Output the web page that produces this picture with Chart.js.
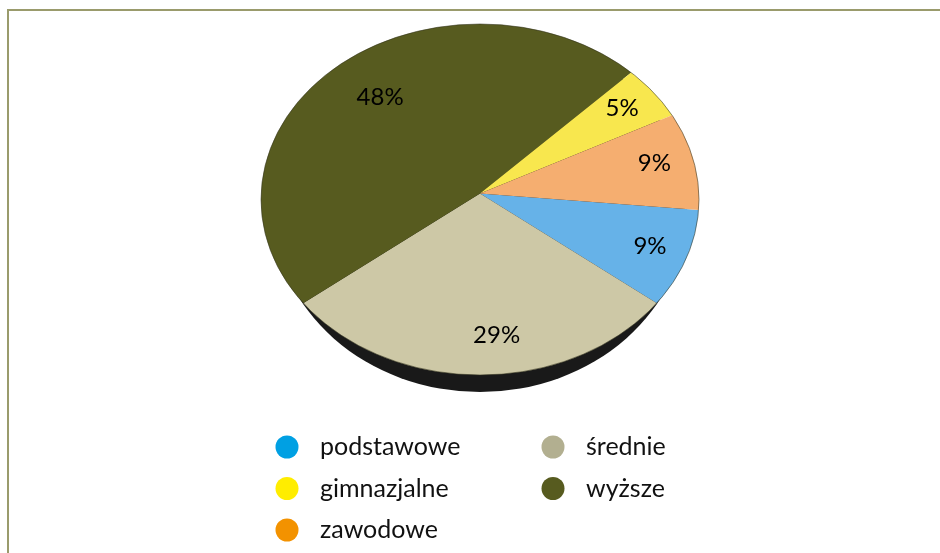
<!DOCTYPE html>
<html>
<head>
<meta charset="utf-8">
<script src="https://cdn.jsdelivr.net/npm/chart.js@4/dist/chart.umd.min.js"></script>
<style>
    html, body { margin: 0; padding: 0; background: #fff; }
    #wrap { position: relative; width: 940px; height: 553px; overflow: hidden; }
    #frame { position: absolute; left: 7px; top: 9px; width: 940px; height: 560px;
             border-top: 2px solid #9a9b6c; border-left: 2px solid #9a9b6c; box-sizing: border-box; }
    canvas { position: absolute; left: 0; top: 0; }
</style>
</head>
<body>
<div id="wrap">
    <canvas id="educationChart" width="940" height="553"></canvas>
    <div id="frame"></div>
</div>
<script>
// slices go clockwise from the blue one
const categories = ['podstawowe', 'średnie', 'wyższe', 'gimnazjalne', 'zawodowe'];
const shares = [9, 29, 48, 5, 9];
const sliceColors = ['#66b2e8', '#cdc8a6', '#575b1f', '#f8e74e', '#f5ae70'];
const legendColors = ['#00a0e3', '#b2af90', '#575b1f', '#ffed00', '#f39200'];
const legendColumns = [[0, 3, 4], [1, 2]];

// where the % labels sit: fraction of the radius, and turn from the slice middle in degrees
const labelRadius = [0.785, 0.76, 0.677, 0.77, 0.77];
const labelTurn = [-0.6, -5.4, 1.9, -1.3, -1.7];

const FONT = "Lato, 'Open Sans', sans-serif";
// the picture is in perspective: the slices meet above the middle of the rim
const apexX = 480, apexY = 193.5, squash = 0.8, pieRadius = 232;
const rimX = 480, rimY = 199.5, rimRx = 219, rimRy = 175.5;

const ellipsePie = {
    id: 'ellipsePie',
    beforeDatasetsDraw(chart) {
        const ctx = chart.ctx;
        const arc = chart.getDatasetMeta(0).data[0];
        // dark edge under the pie
        ctx.save();
        ctx.fillStyle = '#191919';
        ctx.beginPath();
        ctx.ellipse(rimX, 210, 206.5, 182, 0, 0, Math.PI * 2);
        ctx.fill();
        ctx.restore();

        ctx.save();
        ctx.beginPath();
        ctx.ellipse(rimX, rimY, rimRx, rimRy, 0, 0, Math.PI * 2);
        ctx.clip();
        ctx.translate(apexX, apexY);
        ctx.scale(1, squash);
        ctx.translate(-arc.x, -arc.y);
    },
    afterDatasetsDraw(chart) {
        const ctx = chart.ctx;
        ctx.restore();
        ctx.save();
        ctx.strokeStyle = 'rgba(50,50,30,0.55)';
        ctx.lineWidth = 1;
        ctx.beginPath();
        ctx.ellipse(rimX, rimY, rimRx, rimRy, 0, 0, Math.PI * 2);
        ctx.stroke();
        ctx.restore();
    }
};

const pieLabels = {
    id: 'pieLabels',
    afterDraw(chart) {
        const ctx = chart.ctx;
        ctx.save();
        ctx.font = '24px ' + FONT;
        ctx.fillStyle = '#000';
        ctx.textAlign = 'center';
        ctx.textBaseline = 'middle';
        chart.getDatasetMeta(0).data.forEach((arc, i) => {
            const mid = (arc.startAngle + arc.endAngle) / 2 + labelTurn[i] * Math.PI / 180;
            const r = pieRadius * labelRadius[i];
            ctx.fillText(shares[i] + '%', apexX + Math.cos(mid) * r, apexY + Math.sin(mid) * r * squash + 1);
        });
        ctx.restore();
    }
};

const sideLegend = {
    id: 'sideLegend',
    afterDraw(chart) {
        const ctx = chart.ctx;
        ctx.save();
        ctx.font = '25px ' + FONT;
        ctx.textBaseline = 'middle';
        legendColumns.forEach((column, c) => {
            column.forEach((idx, r) => {
                const x = c === 0 ? 287 : 553;
                const y = 447 + r * 41.5;
                ctx.fillStyle = legendColors[idx];
                ctx.beginPath();
                ctx.arc(x, y, 11.5, 0, Math.PI * 2);
                ctx.fill();
                ctx.fillStyle = '#111';
                ctx.fillText(categories[idx], c === 0 ? 320 : 586, y);
            });
        });
        ctx.restore();
    }
};

new Chart(document.getElementById('educationChart').getContext('2d'), {
    type: 'pie',
    data: {
        labels: categories,
        datasets: [{
            data: shares,
            backgroundColor: sliceColors,
            borderWidth: 0
        }]
    },
    options: {
        responsive: false,
        animation: false,
        rotation: 95.4,
        radius: pieRadius,
        plugins: {
            legend: { display: false },
            tooltip: { enabled: false }
        }
    },
    plugins: [ellipsePie, pieLabels, sideLegend]
});
</script>
</body>
</html>
